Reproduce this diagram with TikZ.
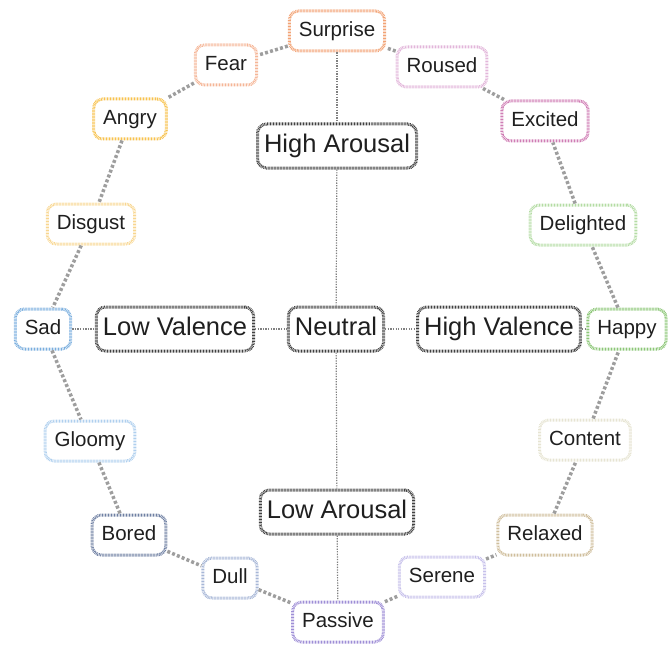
\documentclass[tikz,border=0pt]{standalone}
\usepackage{fontspec}
\setmainfont{Liberation Sans}
\begin{document}
\begin{tikzpicture}[x=1pt,y=-1pt,
  emo/.style={draw=#1, rounded corners=9pt, line width=3pt,
    dash pattern=on 0.75pt off 0.75pt, inner xsep=9.5pt, inner ysep=0pt,
    minimum height=40pt, text height=15pt, text depth=4.5pt,
    font=\fontsize{20.5}{24}\selectfont, text=black!88},
  axisbox/.style={draw=black!75, rounded corners=9pt, line width=3pt,
    dash pattern=on 0.75pt off 0.75pt, inner xsep=6.5pt, inner ysep=0pt,
    minimum height=44pt, text height=19pt, text depth=5.5pt,
    font=\fontsize{25.5}{30}\selectfont, text=black!88},
  ring/.style={draw=black!38, line width=3.5pt, dash pattern=on 3pt off 2.2pt},
  axisline/.style={draw=black!50, line width=1.2pt, dash pattern=on 1.3pt off 1.3pt},
]
\useasboundingbox (0,0) rectangle (669,650);

\definecolor{cSurprise}{HTML}{F2A274}
\definecolor{cFear}{HTML}{F5B596}
\definecolor{cRoused}{HTML}{E2B6DA}
\definecolor{cExcited}{HTML}{CF7DB4}
\definecolor{cAngry}{HTML}{F7C24E}
\definecolor{cDisgust}{HTML}{F8D690}
\definecolor{cDelighted}{HTML}{B4DCA4}
\definecolor{cHappy}{HTML}{8CC677}
\definecolor{cSad}{HTML}{7AAEDE}
\definecolor{cGloomy}{HTML}{AFCFEE}
\definecolor{cContent}{HTML}{E6E4D2}
\definecolor{cRelaxed}{HTML}{CFBE9C}
\definecolor{cBored}{HTML}{6E7FA2}
\definecolor{cDull}{HTML}{A6B6D6}
\definecolor{cSerene}{HTML}{C6C0EA}
\definecolor{cPassive}{HTML}{9E8ED6}

% central axes
\node[axisbox] (ha) at (337,146) {High Arousal};
\node[axisbox] (la) at (337,512) {Low Arousal};
\node[axisbox] (lv) at (175,329) {Low Valence};
\node[axisbox] (ne) at (336,329) {Neutral};
\node[axisbox] (hv) at (499,329) {High Valence};

% emotions around the circle
\node[emo=cSurprise] (surprise) at (337,31) {Surprise};
\node[emo=cFear] (fear) at (226,65) {Fear};
\node[emo=cRoused] (roused) at (442,67) {Roused};
\node[emo=cAngry] (angry) at (130,119) {Angry};
\node[emo=cExcited] (excited) at (545,121) {Excited};
\node[emo=cDisgust] (disgust) at (91,224) {Disgust};
\node[emo=cDelighted] (delighted) at (583,225) {Delighted};
\node[emo=cSad] (sad) at (43,329) {Sad};
\node[emo=cHappy] (happy) at (627,329) {Happy};
\node[emo=cGloomy] (gloomy) at (90,441) {Gloomy};
\node[emo=cContent] (content) at (585,440) {Content};
\node[emo=cBored] (bored) at (129,535) {Bored};
\node[emo=cRelaxed] (relaxed) at (545,535) {Relaxed};
\node[emo=cDull] (dull) at (230,578) {Dull};
\node[emo=cSerene] (serene) at (442,577) {Serene};
\node[emo=cPassive] (passive) at (338,622) {Passive};

% axis lines
\draw[axisline] (surprise) -- (ha);
\draw[axisline] (ha) -- (ne);
\draw[axisline] (ne) -- (la);
\draw[axisline] (la) -- (passive);
\draw[axisline] (sad) -- (lv);
\draw[axisline] (lv) -- (ne);
\draw[axisline] (ne) -- (hv);
\draw[axisline] (hv) -- (happy);

% ring of emotions
\draw[ring] (surprise) -- (fear);
\draw[ring] (fear) -- (angry);
\draw[ring] (angry) -- (disgust);
\draw[ring] (disgust) -- (sad);
\draw[ring] (sad) -- (gloomy);
\draw[ring] (gloomy) -- (bored);
\draw[ring] (bored) -- (dull);
\draw[ring] (dull) -- (passive);
\draw[ring] (passive) -- (serene);
\draw[ring] (serene) -- (relaxed);
\draw[ring] (relaxed) -- (content);
\draw[ring] (content) -- (happy);
\draw[ring] (happy) -- (delighted);
\draw[ring] (delighted) -- (excited);
\draw[ring] (excited) -- (roused);
\draw[ring] (roused) -- (surprise);
\end{tikzpicture}
\end{document}
